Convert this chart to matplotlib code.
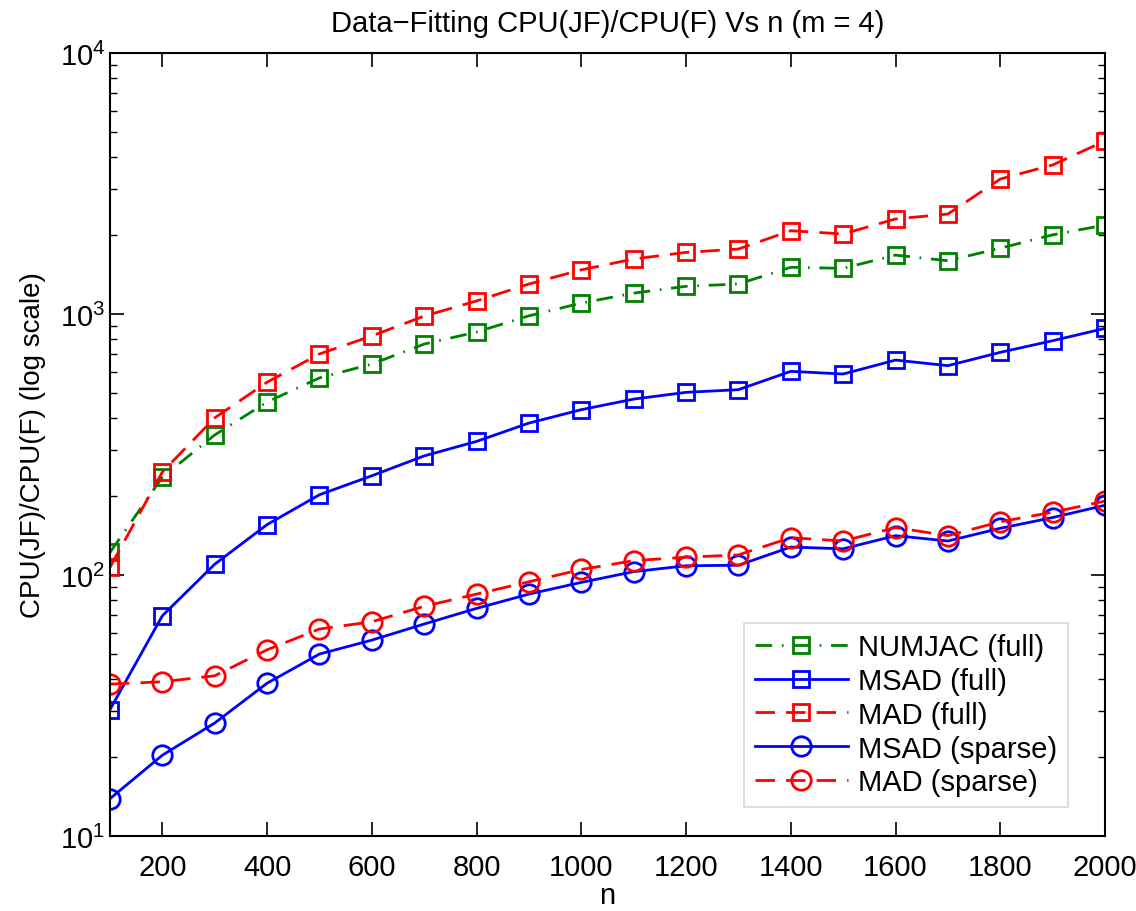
import numpy as np
import matplotlib
matplotlib.use('Agg')
import matplotlib.pyplot as plt
from matplotlib.ticker import LogLocator, NullFormatter

plt.rcParams['font.family'] = ['Liberation Sans', 'DejaVu Sans']
plt.rcParams['mathtext.fontset'] = 'custom'
plt.rcParams['mathtext.rm'] = 'Liberation Sans'

n = [100, 200, 300, 400, 500, 600, 700, 800, 900, 1000,
     1100, 1200, 1300, 1400, 1500, 1600, 1700, 1800, 1900, 2000]
numjac_full = [122, 237, 344, 460, 569, 643, 767, 853, 984, 1101,
               1202, 1277, 1303, 1510, 1496, 1681, 1600, 1787, 2010, 2192]
msad_full = [30.5, 69.8, 110, 156, 203, 240, 286, 325, 382, 430,
             472, 501, 513, 603, 589, 666, 634, 713, 790, 881]
mad_full = [107, 248, 400, 548, 703, 824, 982, 1122, 1303, 1476,
            1625, 1722, 1774, 2085, 2026, 2313, 2415, 3289, 3724, 4603]
msad_sparse = [13.9, 20.4, 27.1, 38.5, 49.8, 56.3, 64.9, 74.5, 84.5, 93.7,
               103, 108.5, 109, 128, 126, 141.5, 135, 151, 166, 185]
mad_sparse = [38.2, 39.0, 41.1, 51.7, 62.1, 66.2, 75.9, 84.5, 94.2, 105,
              113.5, 117, 119.4, 139, 135, 152, 141.5, 160, 174, 192]

fig = plt.figure(figsize=(11.36, 9.12), dpi=100)
ax = fig.add_axes([0.0968, 0.0822, 0.8759, 0.8586])

green = (0, 0.5, 0)
lw = 2
dashed = (0, (7, 4))
dashdot = (0, (6, 3.5, 0.6, 3.5))
ax.plot(n, numjac_full, color=green, linestyle=dashdot, marker='s', markersize=12,
        markerfacecolor='none', markeredgewidth=2, linewidth=lw, label='NUMJAC (full)')
ax.plot(n, msad_full, color='blue', linestyle='-', marker='s', markersize=12,
        markerfacecolor='none', markeredgewidth=2, linewidth=lw, label='MSAD (full)')
ax.plot(n, mad_full, color='red', linestyle=dashed, marker='s', markersize=12,
        markerfacecolor='none', markeredgewidth=2, linewidth=lw, label='MAD (full)')
ax.plot(n, msad_sparse, color='blue', linestyle='-', marker='o', markersize=14,
        markerfacecolor='none', markeredgewidth=2, linewidth=lw, label='MSAD (sparse)')
ax.plot(n, mad_sparse, color='red', linestyle=dashed, marker='o', markersize=14,
        markerfacecolor='none', markeredgewidth=2, linewidth=lw, label='MAD (sparse)')

ax.set_yscale('log')
ax.set_xlim(100, 2000)
ax.set_ylim(10, 1e4)
ax.set_xticks(range(200, 2001, 200))
ax.yaxis.set_major_locator(LogLocator(base=10, numticks=10))
ax.yaxis.set_minor_locator(LogLocator(base=10, subs=np.arange(2, 10), numticks=10))
ax.yaxis.set_minor_formatter(NullFormatter())
ax.tick_params(which='both', direction='in', top=True, right=True, labelsize=21)
ax.tick_params(which='major', length=10, width=1.2)
ax.tick_params(which='minor', length=5, width=1)
ax.tick_params(axis='x', pad=12)
for s in ax.spines.values():
    s.set_linewidth(1.5)

ax.set_xlabel('n', fontsize=21, labelpad=0)
ax.set_ylabel('CPU(JF)/CPU(F) (log scale)', fontsize=20, labelpad=10)
ax.set_title('Data\u2212Fitting CPU(JF)/CPU(F) Vs n (m = 4)', fontsize=21, pad=16)

leg = ax.legend(loc='lower right', fontsize=21, handlelength=3.2, handletextpad=0.35,
                fancybox=False, borderpad=0.35, labelspacing=0.2,
                bbox_to_anchor=(0.977, 0.019))
leg.get_frame().set_edgecolor('#d0d0c8')
leg.get_frame().set_linewidth(1.2)

fig.savefig('out.png', dpi=100)
